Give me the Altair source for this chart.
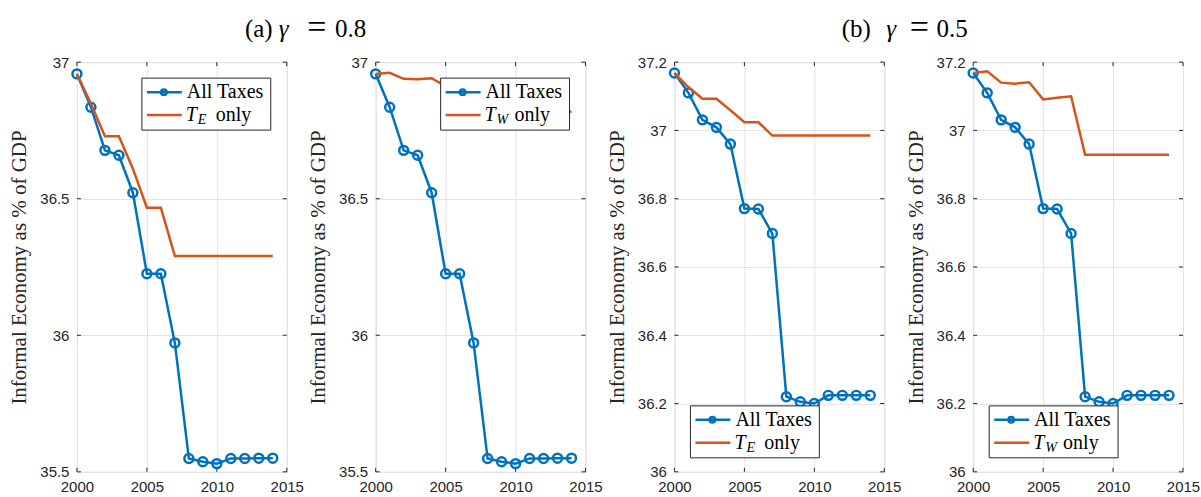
import altair as alt
import pandas as pd

# ---------------- data ----------------
years = list(range(2000, 2015))

all_taxes_g08 = [36.957, 36.835, 36.677, 36.659, 36.522, 36.225, 36.225, 35.972,
                 35.549, 35.537, 35.530, 35.549, 35.549, 35.550, 35.550]
te_only_g08 = [36.957, 36.848, 36.729, 36.729, 36.610, 36.467, 36.467, 36.290,
               36.290, 36.290, 36.290, 36.290, 36.290, 36.290, 36.290]
tw_only_g08 = [36.957, 36.961, 36.939, 36.937, 36.941, 36.912, 36.915, 36.918,
               36.818, 36.818, 36.818, 36.818, 36.818, 36.818, 36.818]

all_taxes_g05 = [37.168, 37.110, 37.031, 37.009, 36.960, 36.771, 36.770, 36.698,
                 36.220, 36.205, 36.200, 36.224, 36.224, 36.224, 36.224]
te_only_g05 = [37.168, 37.127, 37.093, 37.093, 37.059, 37.024, 37.024, 36.985,
               36.985, 36.985, 36.985, 36.985, 36.985, 36.985, 36.985]
tw_only_g05 = [37.168, 37.173, 37.140, 37.137, 37.141, 37.091, 37.096, 37.100,
               36.929, 36.929, 36.929, 36.929, 36.929, 36.929, 36.929]

x_ticks = [2000, 2005, 2010, 2015]
y_ticks_g08 = [35.5, 36, 36.5, 37]
y_ticks_g05 = [36, 36.2, 36.4, 36.6, 36.8, 37, 37.2]

y_title = "Informal Economy as % of GDP"
label_all = "All Taxes"
title_a = ["(a)", "γ", "=", "0.8"]
title_b = ["(b)", "γ", "=", "0.5"]

BLUE = "#0072BD"
ORANGE = "#D95319"
AXC = "#262626"
SERIF = "Liberation Serif"
SANS = "Liberation Sans"

W, H = 210, 410
TK = 4  # inward tick length


def one_row():
    return alt.Chart(pd.DataFrame({"k": [0]}))


def text_at(x, y, s, size=20, italic=False, align="left"):
    return one_row().mark_text(
        align=align, baseline="middle", font=SERIF, fontSize=size,
        fontStyle="italic" if italic else "normal", color="black"
    ).encode(x=alt.value(x), y=alt.value(y), text=alt.value(s))


def legend_layers(L, T, sub):
    r1, r2 = T + 14, T + 37
    box = one_row().mark_rect(fill="white", stroke=AXC, strokeWidth=1).encode(
        x=alt.value(L), x2=alt.value(L + 129), y=alt.value(T), y2=alt.value(T + 52))
    l1 = one_row().mark_rule(color=BLUE, strokeWidth=2.5).encode(
        x=alt.value(L + 5), x2=alt.value(L + 40), y=alt.value(r1))
    c1 = one_row().mark_point(shape="circle", filled=False, size=30, strokeWidth=2.5,
                              color=BLUE, opacity=1).encode(
        x=alt.value(L + 22), y=alt.value(r1))
    l2 = one_row().mark_rule(color=ORANGE, strokeWidth=2.5).encode(
        x=alt.value(L + 5), x2=alt.value(L + 40), y=alt.value(r2))
    t1 = text_at(L + 45, r1, label_all)
    t2 = text_at(L + 44, r2, "T", italic=True)
    t3 = text_at(L + 56, r2 + 5, sub, size=14, italic=True)
    t4 = text_at(L + 74, r2, "only")
    return [box, l1, c1, l2, t1, t2, t3, t4]


def title_layers(parts, xs):
    out = []
    for s, xx in zip(parts, xs):
        size = 34 if s == "=" else 25
        yy = -34 if s == "=" else -33
        out.append(text_at(xx, yy, s, size=size, italic=(s == "γ"), align="center"))
    return out


def panel(all_vals, other_vals, sub, ydom, yticks, legend_pos, title=None):
    df_all = pd.DataFrame({"year": years, "value": all_vals})
    df_oth = pd.DataFrame({"year": years, "value": other_vals})
    df_xt = pd.DataFrame({"year": x_ticks})
    df_yt = pd.DataFrame({"value": yticks})
    x = alt.X("year:Q",
              scale=alt.Scale(domain=[2000, 2015], nice=False, zero=False),
              axis=alt.Axis(values=x_ticks, format="d", title=None, labelFlush=False,
                            labelFont=SANS, labelFontSize=15, labelColor=AXC,
                            labelPadding=8, ticks=False, domain=False,
                            grid=True, gridColor="#e3e3e3"))
    y = alt.Y("value:Q",
              scale=alt.Scale(domain=ydom, nice=False, zero=False),
              axis=alt.Axis(values=yticks, format="~g", title=y_title,
                            labelFont=SANS, labelFontSize=15, labelColor=AXC,
                            labelPadding=8, ticks=False, domain=False,
                            titleFont=SERIF, titleFontSize=21, titleFontWeight="normal",
                            titleColor=AXC, titlePadding=10,
                            grid=True, gridColor="#e3e3e3"))
    # inward ticks on all four sides (MATLAB box style)
    xt_top = alt.Chart(df_xt).mark_rule(color=AXC, strokeWidth=1).encode(
        x=x, y=alt.value(0), y2=alt.value(TK))
    xt_bot = alt.Chart(df_xt).mark_rule(color=AXC, strokeWidth=1).encode(
        x=x, y=alt.value(H - TK), y2=alt.value(H))
    yt_l = alt.Chart(df_yt).mark_rule(color=AXC, strokeWidth=1).encode(
        y=y, x=alt.value(0), x2=alt.value(TK))
    yt_r = alt.Chart(df_yt).mark_rule(color=AXC, strokeWidth=1).encode(
        y=y, x=alt.value(W - TK), x2=alt.value(W))
    blue_line = alt.Chart(df_all).mark_line(color=BLUE, strokeWidth=2.5).encode(x=x, y=y)
    blue_pts = alt.Chart(df_all).mark_point(shape="circle", filled=False, size=80,
                                            strokeWidth=2.5, color=BLUE, opacity=1).encode(x=x, y=y)
    orange = alt.Chart(df_oth).mark_line(color=ORANGE, strokeWidth=2.5).encode(x=x, y=y)
    if legend_pos == "tr":
        leg = legend_layers(65, 16, sub)
    else:
        leg = legend_layers(16, 344, sub)
    layers = [xt_top, xt_bot, yt_l, yt_r, blue_line, blue_pts, orange] + leg
    if title is not None:
        layers += title_layers(*title)
    return alt.layer(*layers).properties(width=W, height=H)


p1 = panel(all_taxes_g08, te_only_g08, "E", [35.5, 37], y_ticks_g08, "tr",
           title=(title_a, [182, 207, 240, 274]))
p2 = panel(all_taxes_g08, tw_only_g08, "W", [35.5, 37], y_ticks_g08, "tr")
p3 = panel(all_taxes_g05, te_only_g05, "E", [36, 37.2], y_ticks_g05, "bl",
           title=(title_b, [182, 217, 245, 278]))
p4 = panel(all_taxes_g05, tw_only_g05, "W", [36, 37.2], y_ticks_g05, "bl")

chart = alt.hconcat(p1, p2, p3, p4, spacing=89).properties(
    bounds="flush",
    padding={"left": 8, "top": 10, "right": 0, "bottom": 0},
).configure_view(stroke=AXC, strokeWidth=1).configure(background="white")

chart.save("out.html", embed_options={"renderer": "svg", "actions": False})
